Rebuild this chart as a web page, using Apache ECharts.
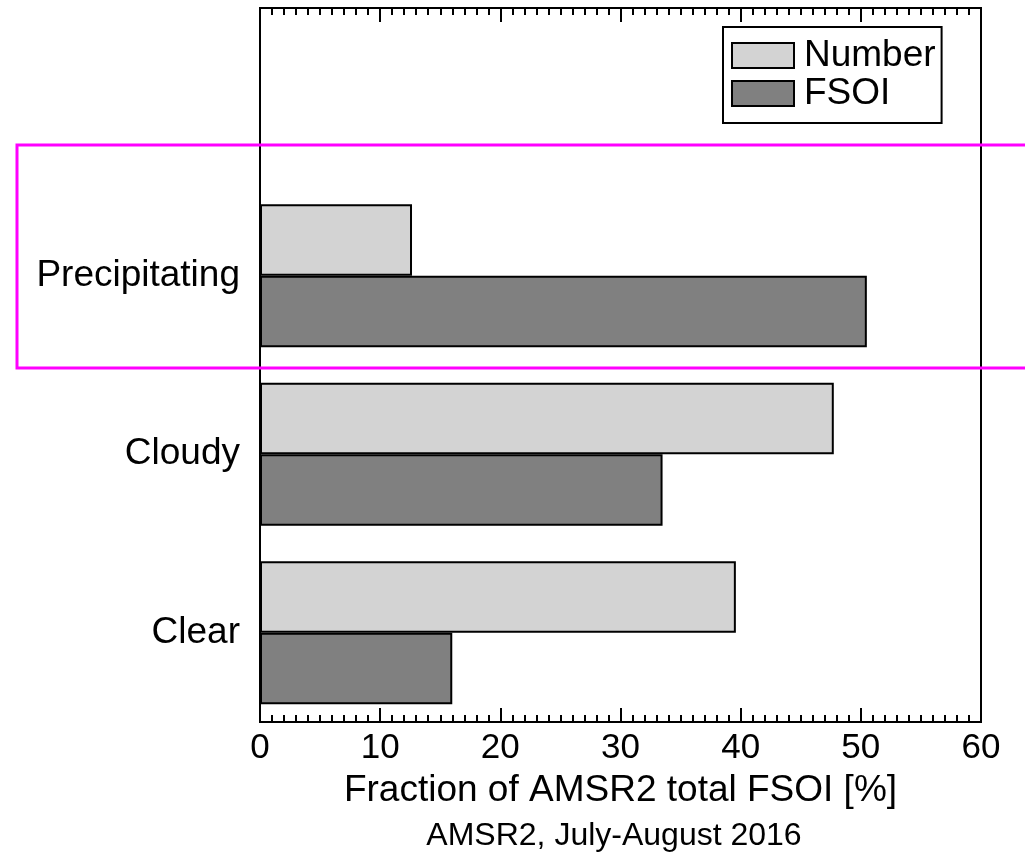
<!DOCTYPE html>
<html>
<head>
<meta charset="utf-8">
<script src="https://cdn.jsdelivr.net/npm/echarts@6/dist/echarts.min.js"></script>
<style>html,body{margin:0;padding:0;background:#fff}#c{width:1025px;height:855px}</style>
</head>
<body>
<div id="c"></div>
<script>
const categories = ['Clear', 'Cloudy', 'Precipitating', ''];
const numberValues = [39.6, 47.75, 12.65, null];
const fsoiValues = [16.0, 33.5, 50.5, null];
const seriesNames = ['Number', 'FSOI'];
const xAxisName = 'Fraction of AMSR2 total FSOI [%]';
const subtitle = 'AMSR2, July-August 2016';
const FONT = 'Liberation Sans, Arial, Helvetica, sans-serif';

const chart = echarts.init(document.getElementById('c'), null, {renderer: 'canvas'});
const tickCommon = {
  type: 'value', min: 0, max: 60, interval: 10,
  axisLine: {show: true, lineStyle: {color: '#000', width: 2}},
  axisTick: {show: true, inside: true, length: 14, lineStyle: {color: '#000', width: 2}},
  minorTick: {show: true, splitNumber: 10, length: 7, lineStyle: {color: '#000', width: 2}},
  splitLine: {show: false},
  minorSplitLine: {show: false}
};
chart.setOption({
  animation: false,
  backgroundColor: '#fff',
  textStyle: {fontFamily: FONT},
  grid: {left: 260, right: 44, top: 8, bottom: 133, show: true, borderColor: '#000', borderWidth: 2, backgroundColor: 'transparent'},
  legend: {
    orient: 'vertical', left: 723, top: 27,
    padding: [10, 6, 11, 8], itemWidth: 62, itemHeight: 25, itemGap: 1,
    backgroundColor: '#fff', borderColor: '#000', borderWidth: 2,
    icon: 'rect',
    textStyle: {fontSize: 37, color: '#000', fontFamily: FONT, padding: [0, 0, 0, 5]},
    data: seriesNames
  },
  xAxis: [
    Object.assign({}, tickCommon, {
      position: 'bottom',
      axisLabel: {show: true, fontSize: 35, color: '#000', margin: 9, fontFamily: FONT},
      name: xAxisName, nameLocation: 'middle', nameGap: 50,
      nameTextStyle: {fontSize: 37, color: '#000', fontFamily: FONT}
    }),
    Object.assign({}, tickCommon, {position: 'top', axisLabel: {show: false}})
  ],
  yAxis: {
    type: 'category', data: categories,
    axisLine: {show: true, lineStyle: {color: '#000', width: 2}},
    axisTick: {show: false},
    axisLabel: {fontSize: 37, color: '#000', margin: 20, fontFamily: FONT},
    splitLine: {show: false}
  },
  series: [
    {name: seriesNames[0], type: 'bar', data: numberValues, barGap: '0%', barCategoryGap: '20%',
     itemStyle: {color: '#d3d3d3', borderColor: '#000', borderWidth: 2}},
    {name: seriesNames[1], type: 'bar', data: fsoiValues, barGap: '0%', barCategoryGap: '20%',
     itemStyle: {color: '#808080', borderColor: '#000', borderWidth: 2}}
  ],
  graphic: [
    {type: 'rect', shape: {x: 17, y: 145, width: 1020, height: 223},
     style: {fill: 'none', stroke: '#ff00ff', lineWidth: 3}, z: 100},
    {type: 'text', x: 614, y: 836,
     style: {text: subtitle, fontSize: 32, fill: '#000', fontFamily: FONT, textAlign: 'center', textVerticalAlign: 'middle'}}
  ]
});
</script>
</body>
</html>
